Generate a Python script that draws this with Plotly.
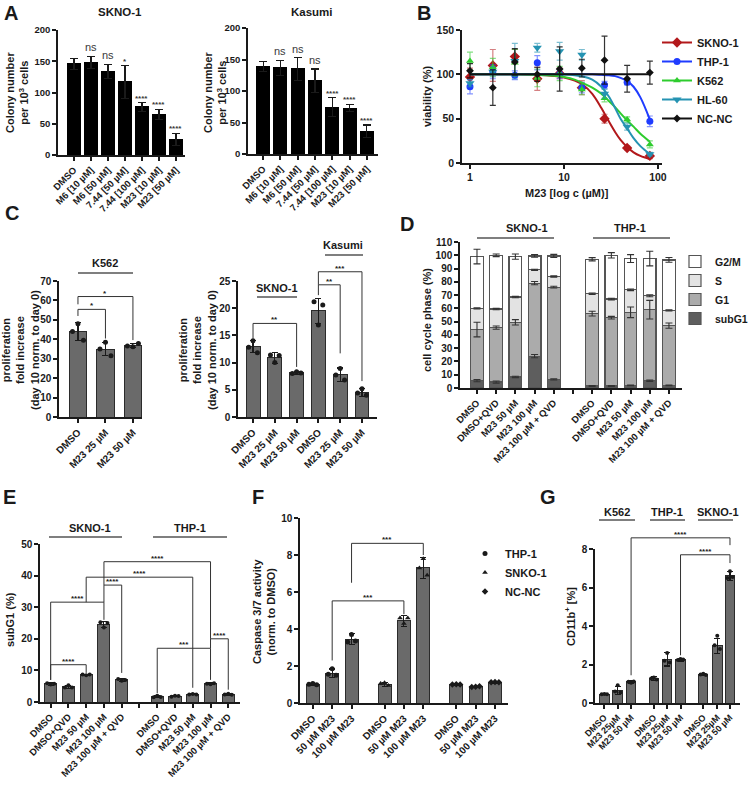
import plotly.graph_objects as go

W, H = 750, 795
FONT = "Liberation Sans, Arial, Helvetica, sans-serif"
INK = "#1a1a1a"

# ---------------- data ----------------
# Panel A : colony numbers
a_labels = ["DMSO", "M6 [10 µM]", "M6 [50 µM]", "7.44 [50 µM]", "7.44 [100 µM]", "M23 [10 µM]", "M23 [50 µM]"]
a_skno = [146, 148, 134, 117, 77, 65, 25]
a_skno_err = [9, 10, 11, 26, 7, 8, 10]
a_skno_sig = ["", "ns", "ns", "*", "****", "****", "****"]
a_kas = [139, 137, 135, 116, 74, 73, 36]
a_kas_err = [8, 12, 18, 19, 15, 6, 10]
a_kas_sig = ["", "ns", "ns", "ns", "****", "****", "****"]

# Panel B : viability dose response
b_conc = [1, 1.75, 3, 5.2, 9, 15.5, 27, 47, 82]
b_names = ["SKNO-1", "THP-1", "K562", "HL-60", "NC-NC"]
b_skno = [97, 110, 120, 95, 101, 85, 50, 17, 8]
b_skno_err = [10, 18, 8, 13, 6, 8, 5, 2, 3]
b_thp = [86, 103, 99, 113, 100, 85, 88, 91, 47]
b_thp_err = [8, 8, 5, 8, 5, 6, 4, 3, 6]
b_k562 = [115, 108, 113, 96, 101, 83, 73, 49, 21]
b_k562_err = [10, 10, 15, 10, 8, 6, 4, 3, 4]
b_hl60 = [90, 103, 115, 130, 126, 122, 78, 41, 10]
b_hl60_err = [4, 6, 20, 5, 10, 6, 5, 4, 2]
b_ncnc = [104, 85, 114, 100, 106, 107, 116, 95, 102]
b_ncnc_err = [8, 20, 15, 8, 25, 10, 27, 15, 13]
# fitted curves
b_fit_x = [1, 3, 5, 8, 10, 13, 16, 20, 25, 30, 35, 40, 47, 55, 65, 82]
b_fit_skno = [100, 100, 99.5, 98, 96.5, 93, 88, 78, 62, 47, 35, 26, 18, 12, 8, 4.5]
b_fit_thp = [100, 100, 100, 100, 100, 100, 100, 100, 99.5, 99, 98, 96, 92.5, 86, 74, 49]
b_fit_k562 = [100, 100, 99.5, 98.5, 97, 94, 90, 85, 78, 70, 63, 56, 48, 41, 33, 24]
b_fit_hl60 = [100, 100, 100, 100, 99.8, 99, 97.5, 94, 86, 75, 62, 50, 39, 28, 19, 10]
b_fit_ncnc_x = [1, 82]
b_fit_ncnc = [100, 100]

# Panel C : proliferation
c_labels = ["DMSO", "M23 25 µM", "M23 50 µM"]
c1_mean = [44, 35, 36.8]
c1_err = [4.5, 3.5, 1.0]
c1_reps = [[44, 48, 39.5], [35, 38.5, 31.5], [36.5, 36.2, 37.8]]
c2_mean = [12.9, 10.9, 8.1, 19.5, 7.8, 4.5]
c2_err = [1.1, 1.0, 0.3, 2.3, 1.2, 0.8]
c2_reps = [[12.8, 14.0, 11.8], [11.4, 10.0, 11.3], [8.0, 8.3, 8.1],
           [21.2, 16.9, 20.6], [7.7, 8.9, 6.8], [4.4, 5.2, 4.0]]

# Panel D : cell cycle (segments in %)
d_labels = ["DMSO", "DMSO+QVD", "M23 50 µM", "M23 100 µM", "M23 100 µM + QVD"]
d_subg1 = [5.5, 4.5, 8.3, 24, 6.5, 1.5, 1.5, 2, 5.5, 2]
d_g1 = [38.5, 41, 41.2, 55, 69.5, 54.5, 51.5, 55, 53.5, 45]
d_s = [16, 14, 19, 10, 8, 15, 14, 17, 10.5, 11.5]
d_g2m = [39, 40.5, 30.5, 10.5, 15.5, 26, 33, 23.5, 28, 38]
d_subg1_err = [0.8, 0.8, 0.5, 1.2, 0.5, 0.3, 0.3, 0.3, 0.5, 0.3]
d_g1_err = [5.5, 1.2, 2, 1.2, 0.7, 1.8, 1, 4, 7, 2]
d_s_err = [0.5, 0.5, 0.5, 0.5, 0.5, 0.6, 0.6, 0.6, 0.8, 0.5]
d_g2m_err = [5.5, 1, 2, 1, 1.2, 1.2, 2, 3, 5.5, 1.8]

# Panel E : subG1
e_mean = [5.7, 4.8, 8.6, 24.5, 7.0, 1.7, 1.9, 2.4, 5.8, 2.4]
e_err = [0.4, 0.5, 0.2, 0.9, 0.4, 0.3, 0.2, 0.15, 0.2, 0.2]
e_reps = [[5.9, 5.5, 5.8], [4.6, 5.3, 4.6], [8.7, 8.5, 8.7], [25.2, 23.6, 25.0], [7.3, 6.7, 7.0],
          [1.5, 2.0, 1.6], [1.7, 2.0, 1.9], [2.4, 2.5, 2.4], [5.8, 5.6, 5.9], [2.4, 2.6, 2.3]]

# Panel F : caspase 3/7
f_labels = ["DMSO", "50 µM M23", "100 µM M23"]
f_groups = ["THP-1", "SNKO-1", "NC-NC"]
f_mean = [1.0, 1.62, 3.45, 1.0, 4.45, 7.3, 1.0, 0.88, 1.12]
f_err = [0.07, 0.22, 0.3, 0.1, 0.3, 0.55, 0.04, 0.03, 0.04]
f_reps = [[1.02, 1.05, 0.98], [1.55, 1.85, 1.5], [3.3, 3.7, 3.35],
          [1.05, 1.1, 0.95], [4.6, 4.3, 4.6], [7.3, 7.8, 6.9],
          [1.0, 1.02, 1.0], [0.87, 0.88, 0.9], [1.12, 1.13, 1.12]]

# Panel G : CD11b
g_labels = ["DMSO", "M23 25µM", "M23 50 µM"]
g_mean = [0.45, 0.65, 1.1, 1.27, 2.27, 2.25, 1.48, 2.97, 6.6]
g_err = [0.03, 0.2, 0.08, 0.1, 0.35, 0.07, 0.06, 0.4, 0.25]
g_reps = [[0.45, 0.47, 0.46], [0.6, 0.92, 0.55], [1.1, 1.05, 1.12],
          [1.27, 1.33, 1.22], [2.2, 2.6, 2.1], [2.24, 2.28, 2.26],
          [1.48, 1.52, 1.46], [3.0, 3.5, 2.8], [6.5, 6.85, 6.55]]

# ---------------- layout geometry (pixels) ----------------
AX = {
    1: dict(x=(58, 185), y=(30, 155), xr=[-0.94, 6.53], yr=[0, 200], yt=[0, 50, 100, 150, 200]),
    2: dict(x=(248, 378), y=(28, 154), xr=[-0.87, 6.64], yr=[0, 200], yt=[0, 50, 100, 150, 200]),
    3: dict(x=(462, 662), y=(30, 163), xr=[-0.085, 2.043], yr=[0, 150], yt=[0, 50, 100, 150]),
    4: dict(x=(59, 142), y=(281, 417), xr=[-0.69, 2.33], yr=[0, 70], yt=list(range(0, 71, 10))),
    5: dict(x=(238, 377), y=(281, 417), xr=[-0.69, 5.69], yr=[0, 25], yt=list(range(0, 26, 5))),
    6: dict(x=(460, 682), y=(242, 388), xr=[-0.885, 10.68], yr=[0, 110], yt=list(range(0, 111, 10))),
    7: dict(x=(40, 240), y=(544, 702), xr=[-0.6, 10.66], yr=[0, 50], yt=list(range(0, 51, 10))),
    8: dict(x=(300, 508), y=(518, 703), xr=[-0.66, 10.07], yr=[0, 10], yt=list(range(0, 11, 2))),
    9: dict(x=(595, 740), y=(549, 703), xr=[-0.7, 10.15], yr=[0, 8], yt=list(range(0, 9, 2))),
}


def xr_(i):
    return 'x' if i == 1 else f'x{i}'


def yr_(i):
    return 'y' if i == 1 else f'y{i}'


def ypaper(i, v):
    sp = AX[i]
    y0, y1 = sp['y']
    r0, r1 = sp['yr']
    py = y1 - (v - r0) / (r1 - r0) * (y1 - y0)
    return 1 - py / H


layout = dict(
    width=W, height=H, margin=dict(l=0, r=0, t=0, b=0, autoexpand=False), autosize=False,
    paper_bgcolor="white", plot_bgcolor="white", barmode="stack",
    font=dict(family=FONT, color=INK, size=10),
)


def setup_axis(i, xtickvals, xticktext, xtype='linear', xangle=-45, xfs=9.5, yfs=10, minor_vals=None):
    sp = AX[i]
    s = '' if i == 1 else str(i)
    common = dict(showline=True, linecolor=INK, linewidth=1.5, ticks='outside', ticklen=4,
                  tickwidth=1.5, tickcolor=INK, showgrid=False, zeroline=False, fixedrange=True,
                  automargin=False)
    xa = dict(domain=[sp['x'][0] / W, sp['x'][1] / W], range=sp['xr'], anchor=yr_(i),
              type=xtype, tickmode='array', tickvals=xtickvals, ticktext=xticktext,
              tickangle=xangle,
              tickfont=dict(family=FONT, size=xfs, color=INK, weight='bold'), **common)
    if minor_vals:
        xa['minor'] = dict(tickmode='array', tickvals=minor_vals, ticks='outside', ticklen=4,
                           tickwidth=1.5, tickcolor=INK, showgrid=False)
    layout[f'xaxis{s}'] = xa
    layout[f'yaxis{s}'] = dict(domain=[1 - sp['y'][1] / H, 1 - sp['y'][0] / H], range=sp['yr'],
                               anchor=xr_(i), tickmode='array', tickvals=sp['yt'],
                               tickfont=dict(family=FONT, size=yfs, color=INK, weight='bold'), **common)


fig = go.Figure()
annotations = []
shapes = []

BAR_FILL = "#6a6a6a"
BAR_LINE = "#2b2b2b"


def errbar(arr, w=3):
    return dict(type='data', array=arr, symmetric=True, color=INK, thickness=1.1, width=w)


def add_bars(i, xs, means, errs, width, fill=BAR_FILL, line=BAR_LINE, capw=3):
    fig.add_trace(go.Bar(x=xs, y=means, width=width, xaxis=xr_(i), yaxis=yr_(i),
                         marker=dict(color=fill, line=dict(color=line, width=1)),
                         error_y=errbar(errs, capw), showlegend=False))


def add_dots(i, xs, reps, spread, symbol='circle', size=5, name=None, legend=None, showlegend=False):
    px, py = [], []
    offs = [-spread, 0, spread]
    for x, r in zip(xs, reps):
        for o, v in zip(offs, r):
            px.append(x + o)
            py.append(v)
    fig.add_trace(go.Scatter(x=px, y=py, mode='markers', xaxis=xr_(i), yaxis=yr_(i),
                             marker=dict(color=INK, size=size, symbol=symbol),
                             name=name, showlegend=showlegend, legend=legend, cliponaxis=False))


def text(px, py, s, size=10, angle=0, xanchor='center', yanchor='middle', weight='bold', color=INK):
    annotations.append(dict(x=px / W, y=1 - py / H, xref='paper', yref='paper', text=s, showarrow=False,
                            textangle=angle, xanchor=xanchor, yanchor=yanchor,
                            font=dict(family=FONT, size=size, color=color, weight=weight)))


def hline(x0, x1, py, color="#555", width=1.5):
    shapes.append(dict(type='line', xref='paper', yref='paper', x0=x0 / W, x1=x1 / W,
                       y0=1 - py / H, y1=1 - py / H, line=dict(color=color, width=width)))


def bracket(i, xa, xb, ytop, yla, ylb, label, size=8):
    pa, pt, pb = ypaper(i, yla), ypaper(i, ytop), ypaper(i, ylb)
    shapes.append(dict(type='path', xref=xr_(i), yref='paper',
                       path=f'M {xa},{pa} L {xa},{pt} L {xb},{pt} L {xb},{pb}',
                       line=dict(color="#333", width=1)))
    annotations.append(dict(x=(xa + xb) / 2, xref=xr_(i), y=pt, yref='paper', text=label,
                            showarrow=False, yanchor='bottom', yshift=-3,
                            font=dict(family=FONT, size=size, color=INK, weight='bold')))


LETTER = 20
LBL = 11

# ---------------- Panel A ----------------
ax_slots = list(range(len(a_labels)))
for i, vals, errs, sig in [(1, a_skno, a_skno_err, a_skno_sig), (2, a_kas, a_kas_err, a_kas_sig)]:
    setup_axis(i, ax_slots, a_labels, xfs=9.5, yfs=9.5)
    add_bars(i, ax_slots, vals, errs, 0.76, fill="#000000", line="#000000", capw=4)
    for x, v, e, s in zip(ax_slots, vals, errs, sig):
        if s:
            ns = s == 'ns'
            annotations.append(dict(x=x, y=v + e, xref=xr_(i), yref=yr_(i), text=s, showarrow=False,
                                    yanchor='bottom', yshift=(1 if ns else -2),
                                    font=dict(family=FONT, size=(11 if ns else 8), color="#3a3a3a",
                                              weight=('normal' if ns else 'bold'))))
text(11, 13, "A", size=LETTER)
text(120, 12, "SKNO-1", size=11.5)
text(312, 12, "Kasumi", size=11.5)
text(17, 93, "Colony number<br>per 10<sup>3</sup> cells", size=11, angle=-90)
text(215, 93, "Colony number<br>per 10<sup>3</sup> cells", size=11, angle=-90)

# ---------------- Panel B ----------------
setup_axis(3, [1, 10, 100], ["1", "10", "100"], xtype='log', xangle=0, xfs=10.5, yfs=10.5)
b_style = [
    ("SKNO-1", b_skno, b_skno_err, b_fit_x, b_fit_skno, "#b2181b", "rgba(178,24,27,0.55)", "diamond", 8),
    ("THP-1", b_thp, b_thp_err, b_fit_x, b_fit_thp, "#1f3cff", "rgba(31,60,255,0.55)", "circle", 7),
    ("K562", b_k562, b_k562_err, b_fit_x, b_fit_k562, "#2ecc2e", "rgba(46,204,46,0.6)", "triangle-up", 7),
    ("HL-60", b_hl60, b_hl60_err, b_fit_x, b_fit_hl60, "#2593b2", "rgba(37,147,178,0.6)", "triangle-down", 8),
    ("NC-NC", b_ncnc, b_ncnc_err, b_fit_ncnc_x, b_fit_ncnc, "#111111", "rgba(17,17,17,0.85)", "diamond", 6),
]
for name, ys, es, fx_, fy_, col, ecol, sym, msz in b_style:
    fig.add_trace(go.Scatter(x=fx_, y=fy_, mode='lines', line=dict(color=col, width=2, shape='spline'),
                             xaxis='x3', yaxis='y3', showlegend=False))
    fig.add_trace(go.Scatter(x=b_conc, y=ys, mode='markers', xaxis='x3', yaxis='y3',
                             marker=dict(color=col, size=msz, symbol=sym),
                             error_y=dict(type='data', array=es, color=ecol, thickness=1.2, width=3),
                             showlegend=False, cliponaxis=False))
    fig.add_trace(go.Scatter(x=[None], y=[None], mode='lines+markers', name=name, xaxis='x3', yaxis='y3',
                             line=dict(color=col, width=2), marker=dict(color=col, size=msz, symbol=sym),
                             legend='legend', showlegend=True))
text(424, 13, "B", size=LETTER)
text(427, 97, "viability (%)", size=LBL, angle=-90)
text(567, 193, "M23 [log c (µM)]", size=LBL)

# ---------------- Panel C ----------------
c1_x = [0, 1, 2]
setup_axis(4, c1_x, c_labels, xfs=10)
add_bars(4, c1_x, c1_mean, c1_err, 0.65)
add_dots(4, c1_x, c1_reps, 0.2)
bracket(4, 0, 2, 62, 58, 39.6, "*")
bracket(4, 0, 1, 55.4, 52, 40.4, "*")
c2_x = [0, 1, 2, 3, 4, 5]
setup_axis(5, c2_x, c_labels * 2, xfs=10)
add_bars(5, c2_x, c2_mean, c2_err, 0.64)
add_dots(5, c2_x, c2_reps, 0.2)
bracket(5, 0, 2, 17.2, 14.4, 9.2, "**")
bracket(5, 3, 4, 24.3, 22.4, 11.7, "**")
bracket(5, 3, 5, 26.7, 24.3, 6.6, "***")
text(12, 213, "C", size=LETTER)
text(105, 263, "K562", size=LBL)
hline(78, 133, 273)
text(277, 288, "SKNO-1", size=LBL)
hline(257, 297, 297)
text(343, 245, "Kasumi", size=LBL)
hline(325, 363, 255)
text(20, 350, "proliferation<br>fold increase<br>(day 10 norm. to day 0)", size=LBL, angle=-90)
text(197, 350, "proliferation<br>fold increase<br>(day 10 norm. to day 0)", size=LBL, angle=-90)

# ---------------- Panel D ----------------
d_x = [0, 1, 2, 3, 4, 6, 7, 8, 9, 10]
setup_axis(6, d_x, d_labels + d_labels, xfs=9.5, minor_vals=[5])
seg_list = [("subG1", d_subg1, d_subg1_err, "#5e5e5e"), ("G1", d_g1, d_g1_err, "#ababab"),
            ("S", d_s, d_s_err, "#e3e3e3"), ("G2/M", d_g2m, d_g2m_err, "#ffffff")]
cum = [0.0] * len(d_x)
tops = []
for name, seg, err, col in seg_list:
    fig.add_trace(go.Bar(x=d_x, y=seg, width=0.66, name=name, xaxis='x6', yaxis='y6',
                         marker=dict(color=col, line=dict(color="#555555", width=1.2)),
                         legend='legend2', showlegend=True))
    cum = [c + s for c, s in zip(cum, seg)]
    tops.append((list(cum), err))
for top, err in tops:
    fig.add_trace(go.Scatter(x=d_x, y=top, mode='markers', marker=dict(size=0.1, color=INK),
                             error_y=dict(type='data', array=err, color="#333", thickness=1.1, width=3.5),
                             xaxis='x6', yaxis='y6', showlegend=False, cliponaxis=False))
text(407, 224, "D", size=LETTER)
text(527, 228, "SKNO-1", size=LBL)
hline(477, 554, 238)
text(630, 228, "THP-1", size=LBL)
hline(593, 670, 238)
text(427, 320, "cell cycle phase (%)", size=LBL, angle=-90)

# ---------------- Panel E ----------------
e_x = [0, 1, 2, 3, 4, 6, 7, 8, 9, 10]
setup_axis(7, e_x, d_labels + d_labels, xfs=9.5, minor_vals=[5])
add_bars(7, e_x, e_mean, e_err, 0.68)
add_dots(7, e_x, e_reps, 0.2, size=4)
bracket(7, 0, 2, 11.8, 7.0, 9.2, "****")
bracket(7, 0, 3, 31.6, 7.0, 26, "****")
bracket(7, 3, 4, 37, 31.6, 9.2, "****")
bracket(7, 2, 8, 39.5, 31.6, 4.5, "****")
bracket(7, 3, 9, 44.4, 37, 20, "****")
bracket(7, 6, 9, 17, 2.8, 7.0, "***")
bracket(7, 9, 10, 20, 17, 3.9, "****")
text(9, 497, "E", size=LETTER)
text(90, 528, "SKNO-1", size=LBL)
hline(49, 122, 537)
text(190, 528, "THP-1", size=LBL)
hline(153, 227, 537)
text(10, 620, "subG1 (%)", size=LBL, angle=-90)

# ---------------- Panel F ----------------
f_x = [0, 1, 2, 3.7, 4.7, 5.7, 7.4, 8.4, 9.4]
setup_axis(8, f_x, f_labels * 3, xfs=10)
add_bars(8, f_x, f_mean, f_err, 0.67)
for gi, (gname, sym) in enumerate(zip(f_groups, ["circle", "triangle-up", "diamond"])):
    add_dots(8, f_x[gi * 3:gi * 3 + 3], f_reps[gi * 3:gi * 3 + 3], 0.2, symbol=sym, size=5,
             name=gname, legend='legend3', showlegend=True)
bracket(8, 1, 4.7, 5.52, 2.3, 4.8, "***")
bracket(8, 2, 5.7, 8.63, 6.5, 8.0, "***")
text(258, 497, "F", size=LETTER)
text(264, 612, "Caspase 3/7 activity<br>(norm. to DMSO)", size=LBL, angle=-90)

# ---------------- Panel G ----------------
g_x = [0, 1, 2, 3.7, 4.7, 5.7, 7.4, 8.45, 9.4]
setup_axis(9, g_x, g_labels * 3, xfs=9)
add_bars(9, g_x, g_mean, g_err, 0.71)
add_dots(9, g_x, g_reps, 0.2, size=4)
bracket(9, 2, 9.4, 8.58, 1.44, 8.2, "****")
bracket(9, 5.7, 9.4, 7.7, 2.48, 7.27, "****")
text(548, 497, "G", size=LETTER)
text(617, 512, "K562", size=LBL)
hline(599, 635, 520)
text(667, 512, "THP-1", size=LBL)
hline(650, 685, 520)
text(718, 512, "SKNO-1", size=LBL)
hline(698, 733, 520)
text(570, 617, "CD11b<sup>+</sup> [%]", size=LBL, angle=-90)

# ---------------- legends ----------------
legfont = dict(family=FONT, size=11, color=INK, weight='bold')
layout['legend'] = dict(x=657 / W, y=1 - 28 / H, xanchor='left', yanchor='top', font=legfont,
                        bgcolor='rgba(0,0,0,0)', itemwidth=30, traceorder='normal')
layout['legend2'] = dict(x=675 / W, y=1 - 247 / H, xanchor='left', yanchor='top',
                         font=dict(family=FONT, size=10.5, color=INK, weight='bold'),
                         bgcolor='rgba(0,0,0,0)', itemwidth=30, traceorder='reversed')
layout['legend3'] = dict(x=465 / W, y=1 - 539 / H, xanchor='left', yanchor='top', font=legfont,
                         bgcolor='rgba(0,0,0,0)', itemwidth=30, traceorder='normal')

layout['annotations'] = annotations
layout['shapes'] = shapes
fig.update_layout(**layout)
fig.write_html("out.html")
